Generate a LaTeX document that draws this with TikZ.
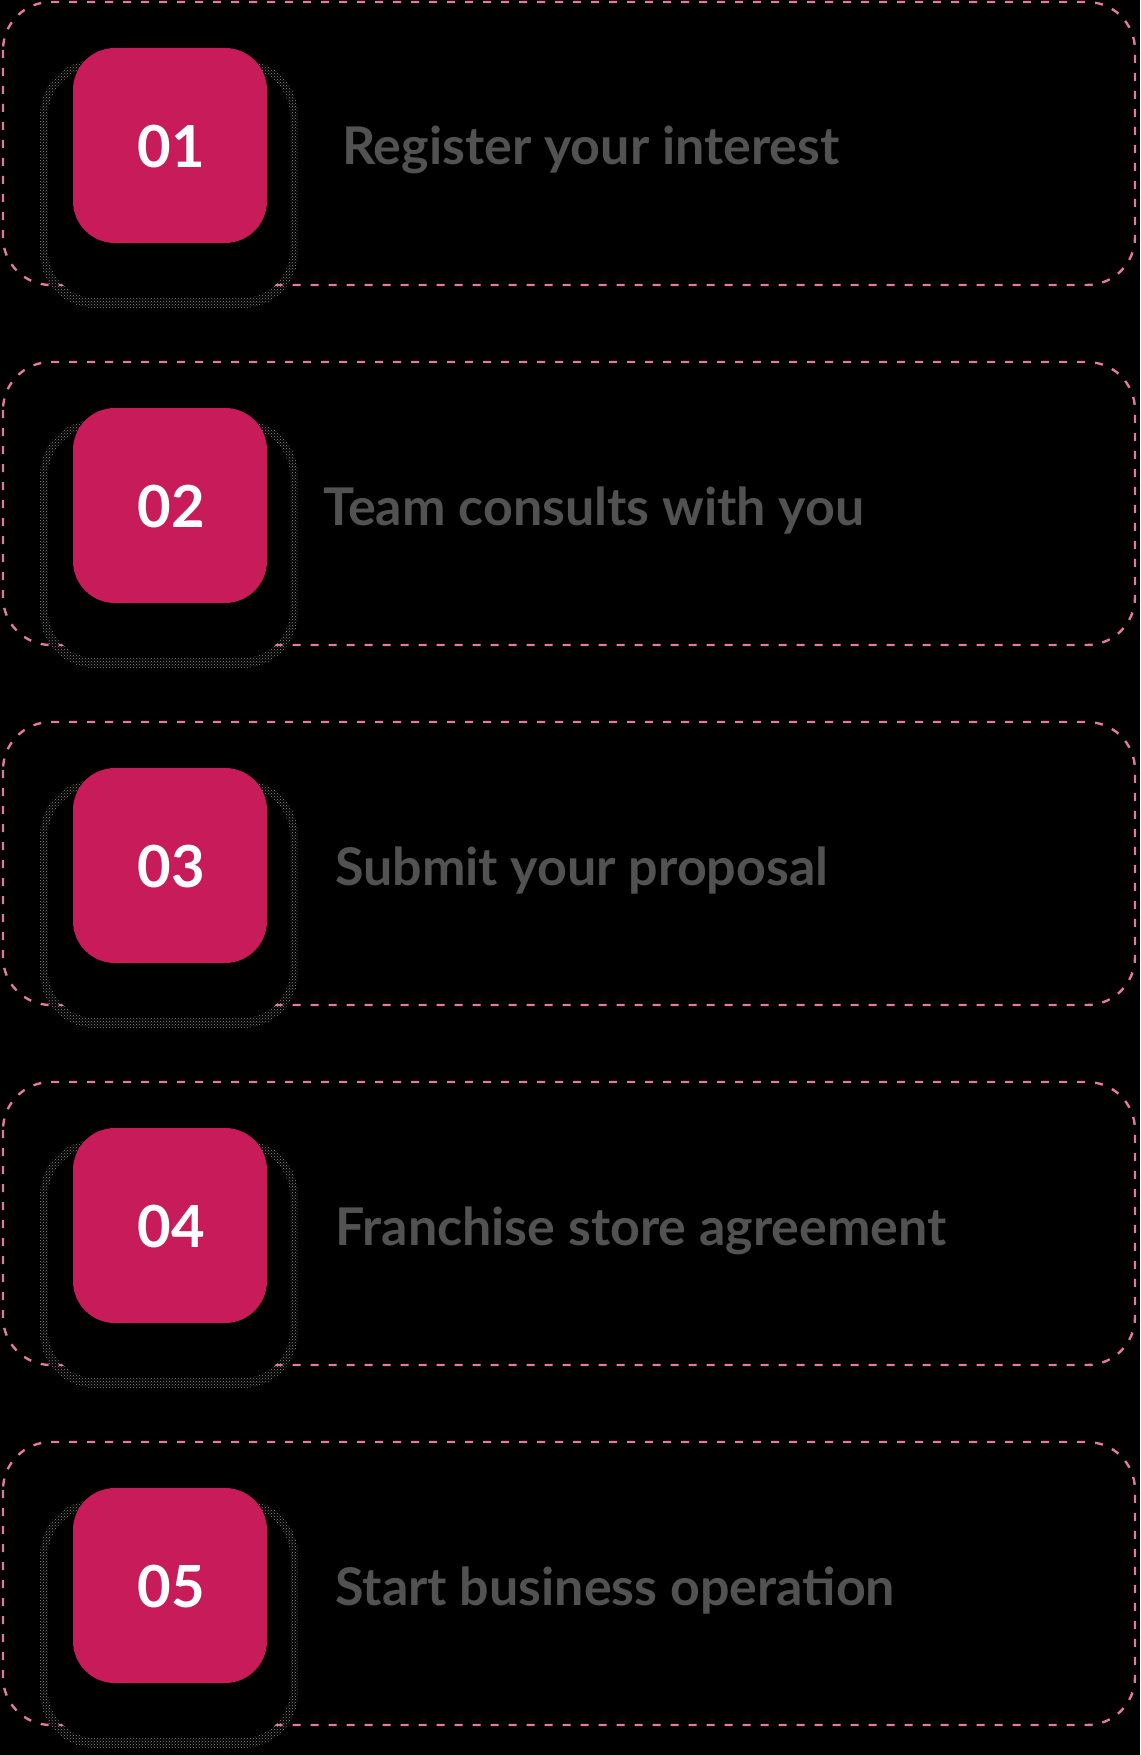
\documentclass[tikz,border=0pt]{standalone}
\usepackage{fontspec}
\setmainfont{Lato}
\usetikzlibrary{patterns}
\definecolor{bgc}{RGB}{0,0,0}
\definecolor{dashpink}{RGB}{228,122,155}
\definecolor{crimson}{RGB}{200,27,90}
\definecolor{labgray}{RGB}{82,82,82}
\tikzset{
  cardbox/.style={draw=dashpink, line width=2.4pt, dash pattern=on 8pt off 10pt, rounded corners=48pt},
  sqbox/.style={fill=crimson, rounded corners=42pt},
  numtext/.style={text=white, font=\fontsize{58}{60}\selectfont\bfseries, inner sep=0pt},
  labtext/.style={text=labgray, font=\fontsize{52}{54}\selectfont\bfseries, inner sep=0pt, anchor=base west},
  shadowring/.style={pattern=crosshatch dots, pattern color=white!55!black, even odd rule}
}
\begin{document}
\begin{tikzpicture}[x=1pt,y=-1pt]
\fill[bgc] (0,0) rectangle (1140,1755);
\useasboundingbox (0,0) rectangle (1140,1755);
\foreach \i/\num/\lab/\lx in {0/01/Register your interest/342,
                               1/02/Team consults with you/323,
                               2/03/Submit your proposal/335,
                               3/04/Franchise store agreement/335,
                               4/05/Start business operation/335}{
  \begin{scope}[yshift=-\i*360pt]
    \draw[cardbox] (3,2) rectangle (1135,285);
    \path[shadowring, rounded corners=55pt] (40,60) rectangle (298,308)
          [rounded corners=48pt] (48,68) rectangle (290,298);
    \fill[bgc, rounded corners=48pt] (48,68) rectangle (290,298);
    \fill[sqbox] (73,48) rectangle (267,243);
    \node[numtext] (num\num) at (171,147) {\num};
    \node[labtext] (lab\num) at (\lx,165) {\lab};
  \end{scope}
}
\end{tikzpicture}
\end{document}
